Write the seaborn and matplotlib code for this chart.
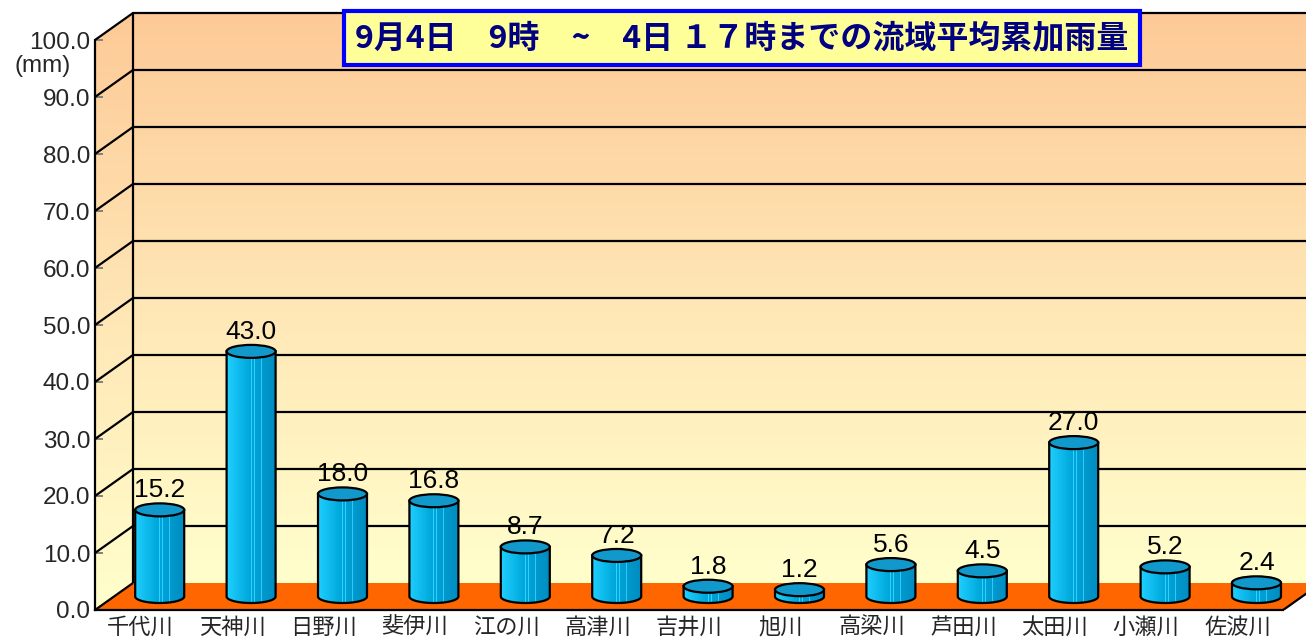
import numpy as np
import pandas as pd
import matplotlib
matplotlib.use("Agg")
import matplotlib.pyplot as plt
import seaborn as sns
from matplotlib.patches import Polygon, Ellipse
from matplotlib.transforms import Affine2D
from matplotlib.colors import LinearSegmentedColormap, to_rgb

# ---------------- data ----------------
rivers = ["千代川", "天神川", "日野川", "斐伊川", "江の川", "高津川", "吉井川",
          "旭川", "高梁川", "芦田川", "太田川", "小瀬川", "佐波川"]
rain_mm = [15.2, 43.0, 18.0, 16.8, 8.7, 7.2, 1.8, 1.2, 5.6, 4.5, 27.0, 5.2, 2.4]
y_ticks = [0, 10, 20, 30, 40, 50, 60, 70, 80, 90, 100]
y_tick_labels = ["0.0", "10.0", "20.0", "30.0", "40.0", "50.0", "60.0",
                 "70.0", "80.0", "90.0", "100.0"]
title = "9月4日　9時　~　4日 １７時までの流域平均累加雨量"
unit_label = "(mm)"

# ---------------- style ----------------
sns.set_theme(style="white")
plt.rcParams["font.family"] = ["Liberation Sans", "Noto Sans CJK JP", "DejaVu Sans"]

W, H = 1306, 640
fig = plt.figure(figsize=(W / 100, H / 100), dpi=100)
fig.patch.set_facecolor("white")

PX_X = 91.4          # pixels per category
PX_Y = 5.7           # pixels per mm
LEFT_PX, BASE_PX = 95, 610
ax = fig.add_axes([LEFT_PX / W, (H - BASE_PX) / H, (W - LEFT_PX) / W, BASE_PX / H])
ax.set_facecolor("none")

n = len(rivers)
DX = 38 / PX_X       # depth offset (categories)
DY = 27 / PX_Y       # depth offset (mm)
XMAX = -0.5 + (W - LEFT_PX) / PX_X
YMAX = BASE_PX / PX_Y
YTOP = y_ticks[-1]

df = pd.DataFrame({"river": rivers, "rain": rain_mm})
sns.barplot(data=df, x="river", y="rain", color="#00AADD", saturation=1,
            width=0.536, errorbar=None, linewidth=0, zorder=4, ax=ax)
bars = list(ax.patches)

# ---------------- walls ----------------
wall_cmap = LinearSegmentedColormap.from_list("wall", ["#FFFFCC", "#FFE6B5", "#FDCA97"])
grad = np.linspace(0, 1, 256).reshape(-1, 1)
ax.imshow(grad, cmap=wall_cmap, origin="lower", aspect="auto",
          extent=(-0.5 + DX, XMAX + 1, DY, YTOP + DY), zorder=0)
left_wall = Polygon([(-0.5, 0), (-0.5 + DX, DY), (-0.5 + DX, YTOP + DY), (-0.5, YTOP)],
                    closed=True, fc="none", ec="none", zorder=0)
ax.add_patch(left_wall)
lw_img = ax.imshow(grad, cmap=wall_cmap, origin="lower", aspect="auto",
                   extent=(-0.5, -0.5 + DX, 0, YTOP + DY), zorder=0)
lw_img.set_clip_path(left_wall)

# grid lines on back wall and left wall
for v in y_ticks[1:]:
    ax.plot([-0.5 + DX, XMAX + 1], [v + DY, v + DY], color="black", lw=1.6, zorder=1)
for v in y_ticks:
    ax.plot([-0.5, -0.5 + DX], [v, v + DY], color="black", lw=1.6, zorder=2.2,
            solid_capstyle="butt")
ax.plot([-0.5 + DX, -0.5 + DX], [DY, YTOP + DY], color="black", lw=1.6, zorder=1)

# floor
floor = Polygon([(-0.5, 0), (n - 0.5, 0), (n - 0.5 + DX, DY), (-0.5 + DX, DY)],
                closed=True, fc="#FF6600", ec="none", zorder=2)
ax.add_patch(floor)
ax.plot([n - 0.5, n - 0.5 + DX], [0, DY], color="black", lw=1.6, zorder=2.2)

# ---------------- cylinders ----------------
offset = Affine2D().translate(DX / 2, DY / 2) + ax.transData
EH = 13 / PX_Y

ncol = 240
t = np.linspace(0, 1, ncol)
c_left = np.array(to_rgb("#20D0FF"))
c_mid = np.array(to_rgb("#00A8DC"))
c_right = np.array(to_rgb("#008CC0"))
tex = np.where(t[:, None] < 0.45,
               c_left + (c_mid - c_left) * (t[:, None] / 0.45),
               c_mid + (c_right - c_mid) * ((t[:, None] - 0.45) / 0.55))
for s in [0.08, 0.5, 0.56, 0.63, 0.7, 0.76, 0.83, 0.9]:
    k = int(s * ncol)
    tex[k] = np.clip(tex[k] + 0.18, 0, 1)
tex = tex.reshape(1, ncol, 3)

theta = np.linspace(np.pi, 2 * np.pi, 80)
for p in bars:
    p.set_transform(offset)
    x0 = p.get_x() + DX / 2
    w = p.get_width()
    h = p.get_height()
    yb = DY / 2
    yt = yb + h
    xc = x0 + w / 2
    ex = xc + (w / 2) * np.cos(theta)
    ey = yb + (EH / 2) * np.sin(theta)
    verts = [(x0, yt)] + list(zip(ex, ey)) + [(x0 + w, yt)]
    body = Polygon(verts, closed=True, fc="none", ec="black", lw=1.6, zorder=5)
    ax.add_patch(body)
    img = ax.imshow(tex, aspect="auto", extent=(x0, x0 + w, yb - EH / 2, yt),
                    zorder=4.5, interpolation="nearest")
    img.set_clip_path(body)
    ax.add_patch(Ellipse((xc, yt), w, EH, fc="#1199CC", ec="black", lw=1.6, zorder=6))
    ax.text(xc, yt + EH / 2 + 0.2, f"{h:.1f}", ha="center", va="bottom",
            fontsize=19, color="black", zorder=7)

# ---------------- axes ----------------
ax.set_xlim(-0.5, XMAX)
ax.set_ylim(0, YMAX)
ax.grid(False)
ax.set_xlabel("")
ax.set_ylabel("")
ax.set_yticks(y_ticks, y_tick_labels)
ax.set_xticks(range(n), rivers)
ax.set_xticks([i + 0.5 for i in range(n)], minor=True)
ax.tick_params(axis="y", which="major", direction="in", length=6, width=1.4,
               color="#808080", pad=3.5, labelsize=17.5, left=True)
ax.tick_params(axis="x", which="major", length=0, pad=5.5, labelsize=16)
ax.tick_params(axis="x", which="minor", direction="in", length=5, width=1.0,
               color="black", bottom=True)
for side in ["top", "right"]:
    ax.spines[side].set_visible(False)
ax.spines["left"].set_bounds(0, YTOP)
ax.spines["left"].set_color("black")
ax.spines["left"].set_linewidth(1.6)
ax.spines["left"].set_zorder(2.3)
ax.spines["bottom"].set_bounds(-0.5, n - 0.5)
ax.spines["bottom"].set_color("black")
ax.spines["bottom"].set_linewidth(1.6)
ax.spines["bottom"].set_zorder(2.3)

fig.text(43 / W, 1 - 66 / H, unit_label, ha="center", va="center", fontsize=17.5)
fig.text(742 / W, 1 - 38 / H, title, ha="center", va="center", fontsize=23,
         fontweight="bold", color="#000080",
         family=["Noto Sans CJK JP", "DejaVu Sans"],
         bbox=dict(boxstyle="square,pad=0.34", fc="#FFFF99", ec="#0000FF", lw=3))

fig.savefig("out.png", dpi=100)
